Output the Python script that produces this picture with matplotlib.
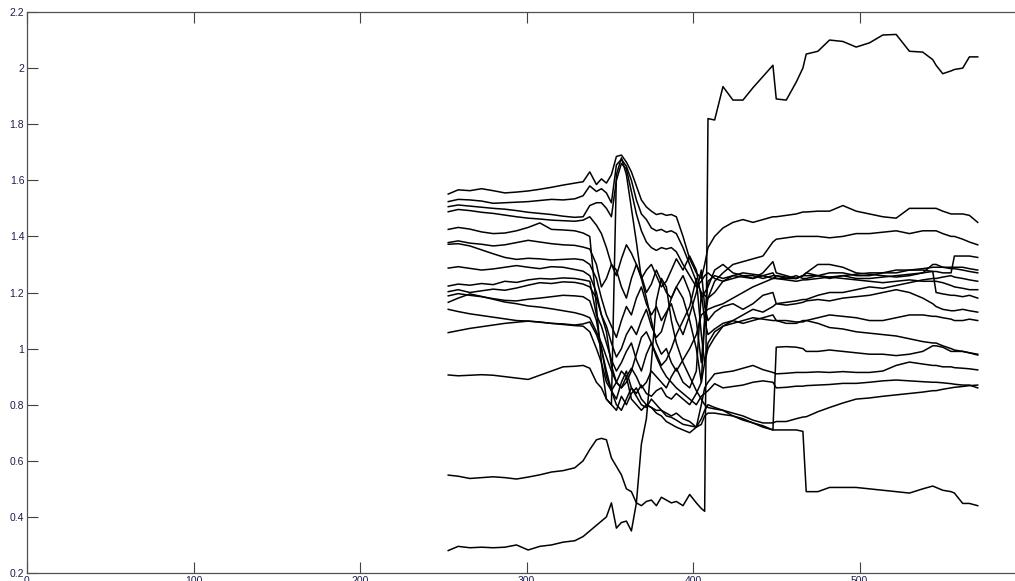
import matplotlib.pyplot as plt

x = [253, 259, 266, 273, 280, 287, 294, 301, 308, 315, 322, 329, 334, 338, 342,
     345, 348, 351, 354, 357, 360, 363, 366, 369, 372, 375, 378, 381, 384, 387,
     390, 394, 398, 402, 405,
     407, 409, 413, 418, 424, 430, 436, 442, 448, 450, 456, 462, 466, 468, 475,
     482, 490, 498, 506, 514, 522, 530, 538, 544, 546, 550, 555, 557, 562, 566, 571]

# series (left part / turbulent part / right part)
line_a = [1.551, 1.566, 1.563, 1.570, 1.563, 1.555, 1.558, 1.562, 1.568, 1.575, 1.583, 1.590, 1.595, 1.630, 1.585,
          1.605, 1.59, 1.62, 1.685, 1.69, 1.665, 1.63, 1.58, 1.53, 1.505, 1.49, 1.478, 1.482, 1.475, 1.478, 1.47, 1.40, 1.32, 1.27, 1.25,
          1.30, 1.36, 1.40, 1.43, 1.45, 1.46, 1.45, 1.46, 1.47, 1.47, 1.475, 1.48, 1.487, 1.487, 1.49, 1.49, 1.51, 1.49, 1.48, 1.47, 1.465, 1.50, 1.50, 1.50, 1.50, 1.49, 1.48, 1.48, 1.48, 1.475, 1.45]
line_b = [1.524, 1.532, 1.530, 1.526, 1.518, 1.520, 1.522, 1.524, 1.528, 1.532, 1.530, 1.534, 1.545, 1.580, 1.560,
          1.57, 1.555, 1.52, 1.655, 1.675, 1.65, 1.60, 1.53, 1.48, 1.46, 1.43, 1.42, 1.425, 1.415, 1.42, 1.41, 1.36, 1.30, 1.24, 1.20,
          1.19, 1.18, 1.24, 1.27, 1.30, 1.31, 1.32, 1.33, 1.38, 1.39, 1.395, 1.40, 1.40, 1.40, 1.40, 1.395, 1.40, 1.41, 1.41, 1.415, 1.42, 1.41, 1.42, 1.42, 1.42, 1.41, 1.40, 1.40, 1.39, 1.38, 1.37]
line_c = [1.506, 1.512, 1.508, 1.504, 1.500, 1.497, 1.492, 1.486, 1.482, 1.478, 1.472, 1.468, 1.470, 1.510, 1.520,
          1.52, 1.50, 1.47, 1.60, 1.66, 1.64, 1.56, 1.48, 1.42, 1.38, 1.36, 1.35, 1.36, 1.355, 1.36, 1.345, 1.30, 1.26, 1.22, 1.24,
          1.26, 1.27, 1.25, 1.24, 1.25, 1.26, 1.25, 1.27, 1.31, 1.27, 1.26, 1.25, 1.26, 1.27, 1.30, 1.30, 1.29, 1.27, 1.265, 1.26, 1.255, 1.26, 1.27, 1.275, 1.275, 1.27, 1.27, 1.33, 1.33, 1.33, 1.325]
line_d = [1.488, 1.496, 1.492, 1.486, 1.482, 1.476, 1.470, 1.465, 1.462, 1.458, 1.456, 1.454, 1.458, 1.470, 1.440,
          1.41, 1.36, 1.30, 1.26, 1.32, 1.37, 1.34, 1.30, 1.25, 1.28, 1.30, 1.26, 1.22, 1.24, 1.28, 1.32, 1.28, 1.33, 1.28, 1.18,
          1.20, 1.22, 1.28, 1.30, 1.27, 1.26, 1.26, 1.25, 1.26, 1.26, 1.25, 1.25, 1.26, 1.26, 1.26, 1.27, 1.27, 1.26, 1.26, 1.27, 1.28, 1.28, 1.285, 1.29, 1.29, 1.29, 1.29, 1.29, 1.29, 1.285, 1.28]
line_e = [1.425, 1.432, 1.426, 1.416, 1.410, 1.412, 1.420, 1.432, 1.448, 1.425, 1.423, 1.420, 1.412, 1.400, 1.150,
          0.95, 0.82, 0.80, 1.62, 1.68, 1.62, 1.50, 1.38, 1.25, 1.18, 1.10, 1.02, 0.98, 1.00, 0.95, 0.92, 0.96, 1.00, 1.05, 1.12,
          1.13, 1.14, 1.15, 1.16, 1.18, 1.20, 1.22, 1.235, 1.25, 1.26, 1.255, 1.25, 1.26, 1.27, 1.26, 1.25, 1.26, 1.265, 1.27, 1.27, 1.27, 1.28, 1.28, 1.275, 1.20, 1.195, 1.19, 1.19, 1.185, 1.19, 1.18]
line_f = [1.378, 1.384, 1.376, 1.372, 1.366, 1.370, 1.378, 1.386, 1.380, 1.374, 1.370, 1.368, 1.362, 1.355, 1.300,
          1.22, 1.25, 1.30, 1.28, 1.22, 1.18, 1.25, 1.30, 1.26, 1.20, 1.23, 1.28, 1.24, 1.20, 1.18, 1.22, 1.26, 1.20, 1.10, 0.95,
          1.10, 1.18, 1.20, 1.24, 1.26, 1.255, 1.25, 1.26, 1.27, 1.25, 1.25, 1.26, 1.25, 1.25, 1.26, 1.255, 1.26, 1.25, 1.25, 1.255, 1.26, 1.265, 1.27, 1.30, 1.30, 1.29, 1.285, 1.285, 1.28, 1.275, 1.27]
line_g = [1.372, 1.374, 1.366, 1.352, 1.338, 1.325, 1.318, 1.322, 1.320, 1.316, 1.318, 1.320, 1.316, 1.300, 1.250,
          1.18, 1.12, 1.08, 1.04, 1.10, 1.15, 1.12, 1.18, 1.22, 1.16, 1.12, 1.15, 1.10, 1.13, 1.16, 1.10, 1.05, 1.12, 1.20, 1.28,
          1.15, 1.10, 1.13, 1.15, 1.16, 1.14, 1.16, 1.19, 1.20, 1.16, 1.165, 1.17, 1.175, 1.175, 1.19, 1.20, 1.20, 1.21, 1.22, 1.215, 1.225, 1.235, 1.245, 1.25, 1.25, 1.255, 1.26, 1.255, 1.25, 1.245, 1.24]
line_h = [1.287, 1.292, 1.286, 1.280, 1.284, 1.290, 1.296, 1.290, 1.285, 1.292, 1.290, 1.282, 1.276, 1.260, 1.200,
          1.12, 1.08, 1.02, 0.97, 1.00, 1.05, 1.08, 1.05, 1.10, 1.14, 1.08, 1.04, 1.06, 1.12, 1.18, 1.22, 1.18, 1.10, 1.00, 0.88,
          1.10, 1.24, 1.26, 1.25, 1.26, 1.27, 1.265, 1.26, 1.25, 1.25, 1.245, 1.24, 1.245, 1.245, 1.25, 1.255, 1.25, 1.245, 1.24, 1.235, 1.24, 1.245, 1.24, 1.24, 1.24, 1.235, 1.225, 1.22, 1.215, 1.21, 1.21]
line_i = [1.223, 1.230, 1.226, 1.232, 1.228, 1.240, 1.236, 1.245, 1.250, 1.248, 1.252, 1.250, 1.245, 1.240, 1.120,
          1.08, 1.02, 0.96, 0.92, 0.95, 0.99, 1.02, 0.96, 0.92, 0.98, 1.02, 0.98, 0.94, 0.96, 1.00, 1.05, 1.10, 1.15, 1.25, 1.05,
          0.95, 1.02, 1.06, 1.08, 1.10, 1.12, 1.14, 1.13, 1.15, 1.16, 1.155, 1.16, 1.165, 1.17, 1.175, 1.17, 1.18, 1.185, 1.19, 1.20, 1.21, 1.20, 1.18, 1.16, 1.15, 1.14, 1.135, 1.135, 1.14, 1.135, 1.13]
line_j = [1.203, 1.210, 1.200, 1.206, 1.212, 1.208, 1.216, 1.226, 1.235, 1.232, 1.238, 1.236, 1.230, 1.220, 1.180,
          1.12, 1.06, 0.94, 0.88, 0.86, 0.90, 0.93, 0.90, 0.86, 0.88, 0.92, 0.90, 0.88, 0.86, 0.90, 0.93, 0.88, 0.86, 0.92, 1.20,
          1.10, 1.05, 1.07, 1.09, 1.10, 1.09, 1.10, 1.11, 1.12, 1.10, 1.09, 1.09, 1.10, 1.10, 1.11, 1.12, 1.115, 1.11, 1.10, 1.10, 1.11, 1.12, 1.12, 1.115, 1.115, 1.11, 1.105, 1.10, 1.10, 1.105, 1.10]
line_k = [1.188, 1.196, 1.190, 1.185, 1.178, 1.172, 1.170, 1.176, 1.180, 1.185, 1.190, 1.188, 1.185, 1.170, 1.100,
          1.00, 0.90, 0.85, 0.80, 0.78, 0.82, 0.86, 0.84, 0.87, 0.84, 0.83, 0.85, 0.86, 0.83, 0.82, 0.84, 0.82, 0.80, 0.84, 0.88,
          0.95, 1.00, 1.04, 1.08, 1.09, 1.10, 1.11, 1.105, 1.10, 1.10, 1.10, 1.095, 1.095, 1.10, 1.09, 1.075, 1.07, 1.06, 1.055, 1.05, 1.045, 1.035, 1.025, 1.02, 1.02, 1.01, 1.00, 0.995, 0.99, 0.985, 0.98]
line_q = [1.165, 1.180, 1.195, 1.186, 1.176, 1.166, 1.160, 1.152, 1.148, 1.142, 1.135, 1.128, 1.120, 1.110, 1.060,
          1.02, 0.97, 0.92, 0.88, 0.86, 0.88, 0.92, 0.98, 1.04, 1.06, 1.02, 0.97, 0.93, 0.90, 0.88, 0.86, 0.84, 0.82, 0.80, 0.83,
          0.84, 0.85, 0.875, 0.86, 0.865, 0.87, 0.88, 0.885, 0.88, 0.86, 0.862, 0.866, 0.866, 0.868, 0.87, 0.872, 0.876, 0.876, 0.88, 0.885, 0.888, 0.885, 0.882, 0.88, 0.88, 0.878, 0.875, 0.873, 0.87, 0.87, 0.86]
line_l = [1.140, 1.132, 1.124, 1.118, 1.112, 1.106, 1.100, 1.098, 1.094, 1.090, 1.086, 1.082, 1.080, 1.060, 1.000,
          0.95, 0.88, 0.85, 0.88, 0.92, 0.90, 0.82, 0.80, 0.78, 0.80, 0.79, 0.77, 0.76, 0.74, 0.73, 0.72, 0.71, 0.70, 0.72, 0.80,
          0.86, 0.88, 0.91, 0.915, 0.92, 0.93, 0.94, 0.925, 0.915, 0.91, 0.912, 0.915, 0.915, 0.915, 0.917, 0.915, 0.918, 0.915, 0.915, 0.92, 0.94, 0.952, 0.945, 0.94, 0.94, 0.935, 0.935, 0.932, 0.93, 0.928, 0.924]
line_m = [1.057, 1.064, 1.072, 1.078, 1.084, 1.090, 1.094, 1.098, 1.095, 1.090, 1.088, 1.084, 1.088, 1.095, 1.050,
          1.00, 0.92, 0.85, 0.82, 0.88, 0.92, 0.86, 0.83, 0.80, 0.79, 0.82, 0.80, 0.78, 0.77, 0.76, 0.77, 0.75, 0.74, 0.72, 0.75,
          0.78, 0.80, 0.79, 0.78, 0.76, 0.745, 0.735, 0.72, 0.71, 1.005, 1.007, 1.005, 1.00, 0.99, 0.99, 0.995, 0.99, 0.985, 0.98, 0.98, 0.975, 0.98, 0.99, 1.01, 1.01, 1.005, 0.99, 0.99, 0.99, 0.985, 0.977]
line_n = [0.906, 0.903, 0.905, 0.907, 0.905, 0.900, 0.895, 0.890, 0.905, 0.920, 0.935, 0.937, 0.940, 0.930, 0.880,
          0.86, 0.82, 0.80, 0.78, 0.83, 0.80, 0.84, 0.86, 0.82, 0.80, 0.79, 0.78, 0.78, 0.76, 0.755, 0.745, 0.73, 0.725, 0.72, 0.73,
          0.76, 0.77, 0.77, 0.765, 0.76, 0.75, 0.735, 0.725, 0.71, 0.71, 0.71, 0.71, 0.705, 0.49, 0.49, 0.505, 0.505, 0.505, 0.50, 0.495, 0.49, 0.485, 0.50, 0.51, 0.505, 0.495, 0.49, 0.485, 0.448, 0.448, 0.44]
line_o = [0.549, 0.545, 0.537, 0.540, 0.543, 0.540, 0.535, 0.542, 0.550, 0.560, 0.565, 0.575, 0.600, 0.640, 0.675,
          0.68, 0.675, 0.61, 0.58, 0.55, 0.50, 0.49, 0.45, 0.44, 0.455, 0.46, 0.44, 0.47, 0.46, 0.45, 0.455, 0.44, 0.48, 0.45, 0.43,
          0.42, 1.82, 1.815, 1.934, 1.886, 1.886, 1.93, 1.97, 2.01, 1.89, 1.886, 1.95, 2.00, 2.05, 2.06, 2.10, 2.095, 2.075, 2.09, 2.118, 2.12, 2.06, 2.057, 2.03, 2.01, 1.98, 1.99, 1.995, 2.00, 2.04, 2.04]
line_p = [0.280, 0.295, 0.290, 0.292, 0.290, 0.292, 0.300, 0.282, 0.295, 0.300, 0.310, 0.315, 0.330, 0.350, 0.370,
          0.385, 0.40, 0.45, 0.36, 0.38, 0.385, 0.35, 0.45, 0.66, 0.75, 0.95, 1.17, 1.25, 1.22, 1.10, 1.02, 0.95, 0.90, 0.85, 0.82,
          0.80, 0.79, 0.785, 0.78, 0.77, 0.76, 0.745, 0.735, 0.735, 0.74, 0.74, 0.75, 0.756, 0.757, 0.775, 0.79, 0.806, 0.82, 0.824, 0.83, 0.835, 0.84, 0.845, 0.85, 0.85, 0.855, 0.86, 0.862, 0.865, 0.868, 0.87]

series = [line_a, line_b, line_c, line_d, line_e, line_f, line_g, line_h, line_i,
          line_j, line_k, line_q, line_l, line_m, line_n, line_o, line_p]

x_ticks = [0, 100, 200, 300, 400, 500, 600]
y_ticks = [0.2, 0.4, 0.6, 0.8, 1, 1.2, 1.4, 1.6, 1.8, 2, 2.2]
y_labels = ['0.2', '0.4', '0.6', '0.8', '1', '1.2', '1.4', '1.6', '1.8', '2', '2.2']

plt.rcParams['font.family'] = ['Liberation Sans', 'DejaVu Sans']

fig = plt.figure(figsize=(10.15, 5.81), dpi=100)
ax = fig.add_axes([27 / 1015, 8 / 581, 999 / 1015, 561 / 581])

for s in series:
    ax.plot(x, s, color='black', linewidth=1.1)

ax.set_xlim(0, 600)
ax.set_ylim(0.2, 2.2)
ax.set_xticks(x_ticks)
ax.set_xticklabels([str(t) for t in x_ticks])
ax.set_yticks(y_ticks)
ax.set_yticklabels(y_labels)
ax.tick_params(direction='in', length=8, width=0.8, colors='#404040',
               labelsize=7.5, labelcolor='#1c1c50', top=True, right=True)
ax.tick_params(axis='x', pad=2)
ax.tick_params(axis='y', pad=2)
for sp in ax.spines.values():
    sp.set_color('#505050')
    sp.set_linewidth(0.9)

fig.savefig('out.png', dpi=100)
